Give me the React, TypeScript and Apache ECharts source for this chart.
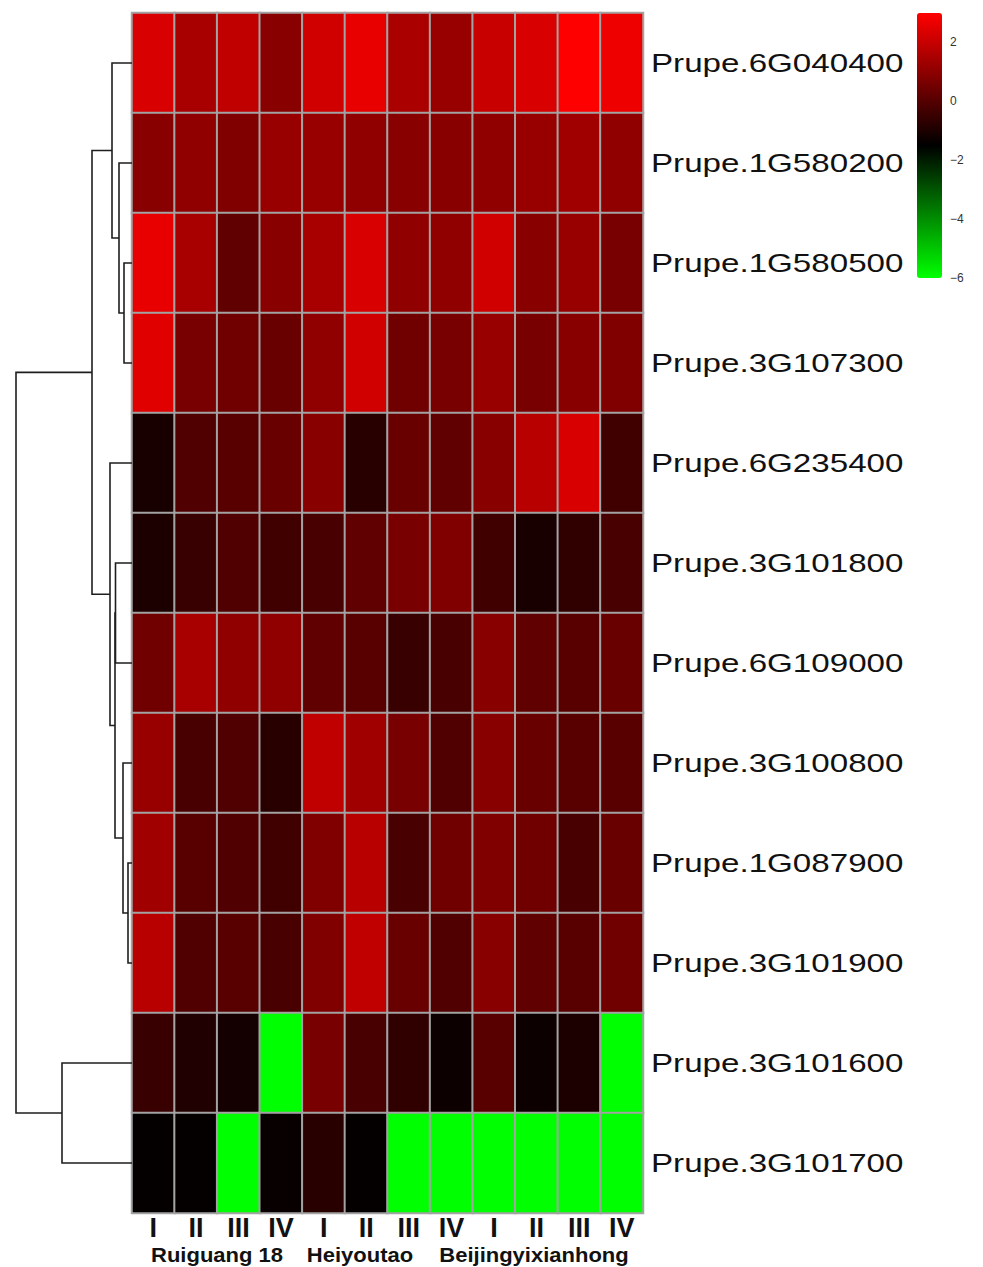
import React, { useEffect, useRef } from "react";
import * as echarts from "echarts";

const genes = [
  "Prupe.6G040400",
  "Prupe.1G580200",
  "Prupe.1G580500",
  "Prupe.3G107300",
  "Prupe.6G235400",
  "Prupe.3G101800",
  "Prupe.6G109000",
  "Prupe.3G100800",
  "Prupe.1G087900",
  "Prupe.3G101900",
  "Prupe.3G101600",
  "Prupe.3G101700",
];

const stages = ["I", "II", "III", "IV", "I", "II", "III", "IV", "I", "II", "III", "IV"];

const groups = ["Ruiguang 18", "Heiyoutao", "Beijingyixianhong"];

const row1 = [2.31, 1.46, 1.89, 0.9, 2.17, 2.59, 1.5, 1.18, 2.03, 2.31, 3.0, 2.7];
const row2 = [0.9, 1.04, 0.76, 1.18, 1.18, 1.04, 0.9, 0.9, 1.04, 1.18, 1.32, 1.04];
const row3 = [2.59, 1.46, 0.19, 0.9, 1.46, 2.31, 1.04, 1.04, 2.17, 0.9, 1.18, 0.62];
const row4 = [2.45, 0.62, 0.48, 0.34, 1.04, 2.17, 0.48, 0.62, 1.18, 0.62, 0.9, 0.76];
const row5 = [-1.08, -0.09, 0.05, 0.34, 0.9, -0.79, 0.34, 0.19, 0.9, 1.75, 2.31, -0.37];
const row6 = [-1.0, -0.51, -0.09, -0.37, -0.23, 0.19, 0.62, 0.76, -0.37, -1.08, -0.65, -0.23];
const row7 = [0.48, 1.46, 1.04, 1.04, 0.19, 0.05, -0.51, -0.23, 0.9, 0.19, 0.05, 0.34];
const row8 = [1.18, -0.23, -0.09, -0.79, 1.89, 1.32, 0.62, -0.09, 0.9, 0.34, 0.05, 0.05];
const row9 = [1.32, 0.05, -0.09, -0.37, 0.76, 1.75, -0.23, 0.48, 0.76, 0.48, -0.23, 0.34];
const row10 = [1.75, -0.09, 0.05, -0.23, 0.76, 1.89, 0.34, -0.09, 0.9, 0.19, 0.05, 0.48];
const row11 = [-0.51, -0.94, -1.15, -6, 0.62, -0.23, -0.65, -1.29, 0.05, -1.29, -1.0, -6];
const row12 = [-1.43, -1.43, -6, -1.36, -0.79, -1.43, -6, -6, -6, -6, -6, -6];

const rows = [row1, row2, row3, row4, row5, row6, row7, row8, row9, row10, row11, row12];

// Dendrogram merges: children are "r<i>" (gene row) or "m<k>" (earlier merge)
const mergeLeft = ["r2", "r1", "r0", "r8", "r7", "r5", "m5", "r4", "m2", "r10", "m8"];
const mergeRight = ["r3", "m0", "m1", "r9", "m3", "r6", "m4", "m6", "m7", "r11", "m9"];
const mergeHeight = [8, 13, 20, 4, 9, 16.5, 17, 22, 40, 70, 116];

const colorTicks = [-6, -4, -2, 0, 2];

const FONT = "'Liberation Sans', Arial, Helvetica, sans-serif";

function buildDendro() {
  const pos: Record<string, [number, number]> = {};
  rows.forEach((_, i) => {
    pos["r" + i] = [0, i];
  });
  const out: number[][] = [];
  mergeLeft.forEach((l, k) => {
    const r = mergeRight[k];
    const h = mergeHeight[k];
    const a = pos[l];
    const b = pos[r];
    out.push([a[0], a[1], b[0], b[1], h]);
    pos["m" + k] = [h, (a[1] + b[1]) / 2];
  });
  return out;
}

export default function App() {
  const ref = useRef<HTMLDivElement>(null);
  useEffect(() => {
    if (!ref.current) return;
    const chart = echarts.init(ref.current, null, { renderer: "svg" });
    const heatData: number[][] = [];
    rows.forEach((r, yi) => r.forEach((v, xi) => heatData.push([xi, yi, v])));
    const dendro = buildDendro();

    chart.setOption({
      animation: false,
      backgroundColor: "#ffffff",
      grid: [
        { left: 132, top: 13, width: 511, height: 1200 },
        { left: 16, top: 13, width: 116, height: 1200 },
        { left: 917, top: 13, width: 25, height: 265 },
      ],
      xAxis: [
        {
          type: "category",
          gridIndex: 0,
          data: stages,
          position: "bottom",
          axisLine: { show: false },
          axisTick: { show: false },
          splitLine: { show: false },
          axisLabel: {
            interval: 0,
            margin: 1,
            fontSize: 27,
            fontWeight: "bold",
            fontFamily: FONT,
            color: "#111",
          },
        },
        {
          type: "value",
          gridIndex: 1,
          min: 0,
          max: 116,
          inverse: true,
          show: false,
        },
        { type: "value", gridIndex: 2, show: false, min: 0, max: 1 },
      ],
      yAxis: [
        {
          type: "category",
          gridIndex: 0,
          data: genes,
          inverse: true,
          axisLine: { show: false },
          axisTick: { show: false },
          axisLabel: { show: false },
          splitLine: { show: false },
        },
        {
          type: "value",
          gridIndex: 1,
          min: -0.5,
          max: 11.5,
          inverse: true,
          show: false,
        },
        {
          type: "value",
          gridIndex: 2,
          min: -6,
          max: 3,
          interval: 2,
          position: "right",
          axisLine: { show: false },
          axisTick: { show: false },
          splitLine: { show: false },
          axisLabel: {
            showMaxLabel: false,
            margin: 8,
            fontSize: 12,
            fontFamily: FONT,
            color: "#333",
            formatter: (v: number) => (colorTicks.includes(v) ? String(v).replace("-", "\u2212") : ""),
          },
        },
      ],
      visualMap: {
        type: "continuous",
        seriesIndex: 0,
        dimension: 2,
        min: -6,
        max: 3,
        calculable: false,
        left: 917,
        top: 13,
        padding: 0,
        itemWidth: 25,
        itemHeight: 265,
        text: ["", ""],
        showLabel: false,
        inRange: { color: ["#00ff00", "#000000", "#ff0000"] },
      },
      series: [
        {
          type: "heatmap",
          xAxisIndex: 0,
          yAxisIndex: 0,
          data: heatData,
          itemStyle: { borderColor: "#a3a3a3", borderWidth: 2 },
          emphasis: { disabled: true },
        },
        {
          type: "custom",
          xAxisIndex: 1,
          yAxisIndex: 1,
          data: dendro,
          clip: false,
          encode: { x: [0, 2, 4], y: [1, 3] },
          renderItem: (params: any, api: any) => {
            const hl = api.value(0);
            const yl = api.value(1);
            const hr = api.value(2);
            const yr = api.value(3);
            const h = api.value(4);
            const pts = [
              api.coord([hl, yl]),
              api.coord([h, yl]),
              api.coord([h, yr]),
              api.coord([hr, yr]),
            ];
            return {
              type: "polyline",
              shape: { points: pts },
              style: { stroke: "#1e1e1e", lineWidth: 1.6, fill: "none" },
            };
          },
        },
      ],
    });

    const geneLabels = genes.map((g, i) => {
      const y = chart.convertToPixel({ yAxisIndex: 0 }, i) as number;
      return {
        type: "text",
        x: 651,
        y: y,
        scaleX: 1.3,
        style: {
          text: g,
          fontSize: 25.5,
          fontFamily: FONT,
          fill: "#111",
          align: "left",
          verticalAlign: "middle",
        },
      };
    });
    const groupX = [217, 360, 534];
    const groupLabels = groups.map((g, i) => ({
      type: "text",
      x: groupX[i],
      y: 1255,
      scaleX: 1.1,
      style: {
        text: g,
        fontSize: 20,
        fontWeight: "bold",
        fontFamily: FONT,
        fill: "#111",
        align: "center",
        verticalAlign: "middle",
      },
    }));
    chart.setOption({ graphic: [...geneLabels, ...groupLabels] });

    return () => chart.dispose();
  }, []);

  return (
    <div
      ref={ref}
      style={{ position: "absolute", left: 0, top: 0, width: 983, height: 1267 }}
    />
  );
}
